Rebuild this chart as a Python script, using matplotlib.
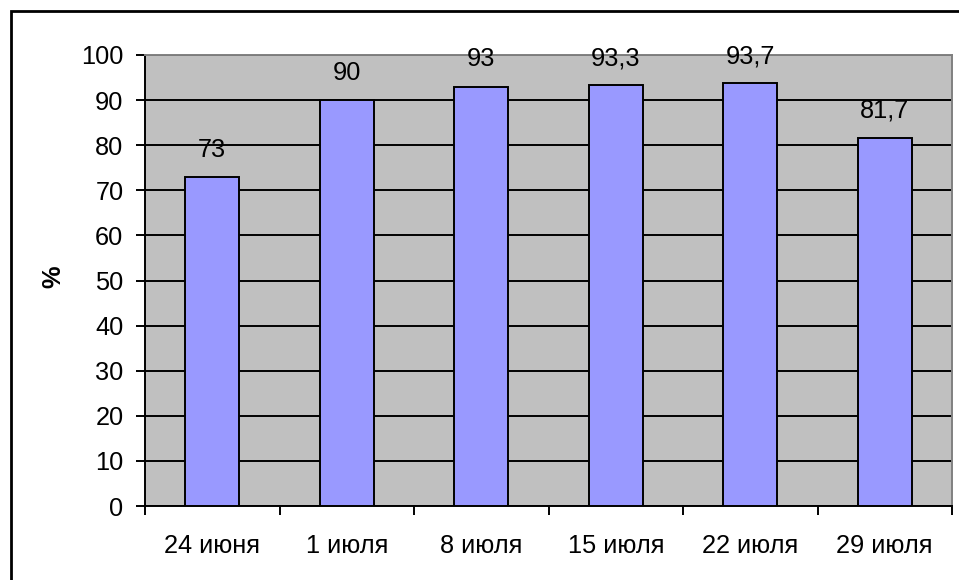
import matplotlib
matplotlib.use("Agg")
import matplotlib.pyplot as plt
from matplotlib.patches import Rectangle

categories = ["24 июня", "1 июля", "8 июля", "15 июля", "22 июля", "29 июля"]
values = [73, 90, 93, 93.3, 93.7, 81.7]
value_labels = ["73", "90", "93", "93,3", "93,7", "81,7"]
y_ticks = [0, 10, 20, 30, 40, 50, 60, 70, 80, 90, 100]

plt.rcParams["font.family"] = ["Liberation Sans", "DejaVu Sans"]
FS = 18.3

fig = plt.figure(figsize=(9.59, 5.8), dpi=100)
W, H = 959, 580

# outer chart frame (runs off the right and bottom edges)
fig.patches.append(Rectangle((10.5 / W, -0.05), 1.1, 1 - 10.5 / H + 0.05,
                             transform=fig.transFigure, fill=False,
                             edgecolor="black", linewidth=2.0, zorder=0))

ax = fig.add_axes([145 / W, (H - 506) / H, (952 - 145) / W, (506 - 55) / H])
ax.set_facecolor("#C0C0C0")

x = list(range(len(categories)))
ax.bar(x, values, width=0.4, color="#9999FF", edgecolor="black",
       linewidth=1.4, zorder=3)

for xi, v, lab in zip(x, values, value_labels):
    ax.annotate(lab, (xi, v), xytext=(0, 19.5), textcoords="offset points",
                ha="center", va="center", fontsize=FS, color="black", zorder=4)

ax.set_xlim(-0.5, len(categories) - 0.5)
ax.set_ylim(0, 100)
ax.set_yticks(y_ticks)
ax.set_yticklabels([str(t) for t in y_ticks], fontsize=FS)
ax.yaxis.grid(True, color="black", linewidth=1.4, zorder=1)
ax.set_axisbelow(True)

ax.set_xticks(x)
ax.set_xticklabels(categories, fontsize=FS)
ax.tick_params(axis="x", length=0, pad=20)
ax.set_xticks([i - 0.5 for i in range(len(categories) + 1)], minor=True)
ax.tick_params(axis="x", which="minor", length=6.3, width=1.4, direction="out")
ax.tick_params(axis="y", length=6.5, width=1.4, direction="out", pad=9)

for side in ("left", "bottom"):
    ax.spines[side].set_color("black")
    ax.spines[side].set_linewidth(1.4)
for side in ("top", "right"):
    ax.spines[side].set_color("#808080")
    ax.spines[side].set_linewidth(1.4)

fig.text(53 / W, 1 - 277 / H, "%", rotation=90, ha="center", va="center",
         fontsize=FS, fontweight="bold")

fig.savefig("out.png", dpi=100)
